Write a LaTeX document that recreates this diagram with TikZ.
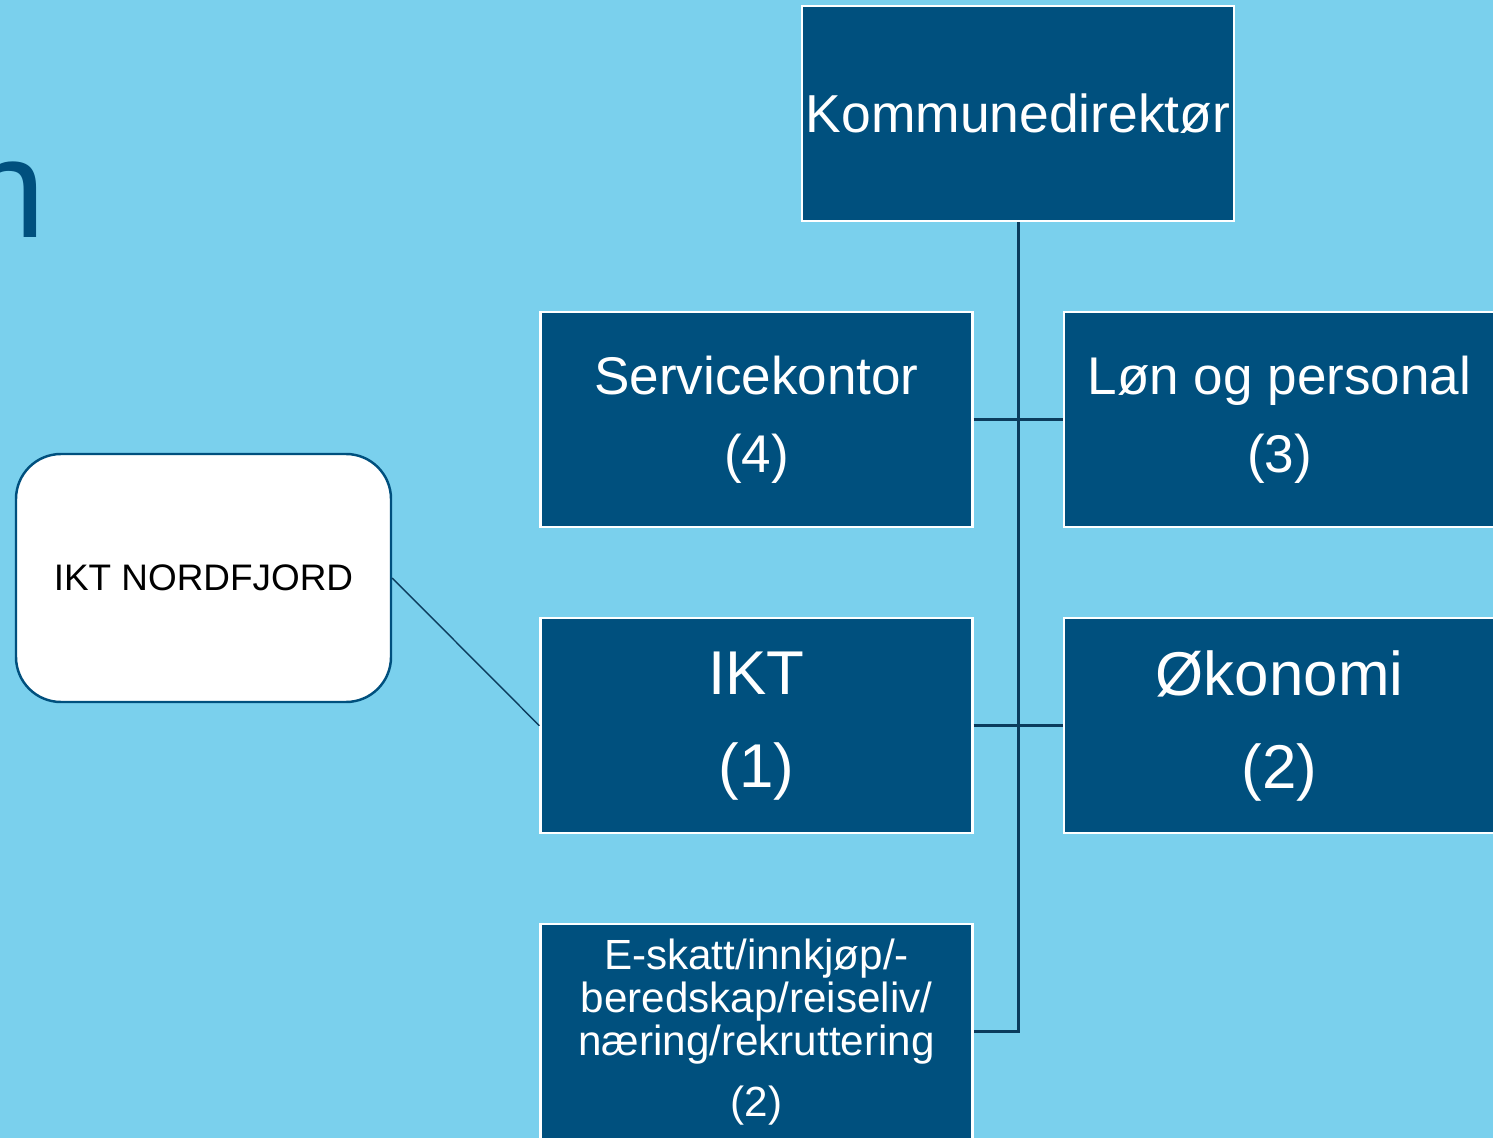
\documentclass[tikz,border=0pt]{standalone}
\usepackage{fontspec}
\setmainfont{Liberation Sans}
\usetikzlibrary{positioning}
\definecolor{bakgrunn}{HTML}{7AD0ED}
\definecolor{boksblaa}{HTML}{00507E}
\definecolor{linjeblaa}{HTML}{0B3C5D}
\begin{document}
\begin{tikzpicture}[node distance=0.89cm, >=stealth]
            \tikzstyle{boks}=[rectangle, draw=white, line width=0.6pt, fill=boksblaa, text=white, minimum width=4.32cm, minimum height=2.15cm, align=center, inner sep=0pt]
            \tikzstyle{linje}=[draw=linjeblaa, line width=0.85pt]

            % Bakgrunn
            \fill[bakgrunn] (0,0) rectangle (14.93,-11.38);
            \useasboundingbox (0,0) rectangle (14.93,-11.38);
            \node[anchor=base west, inner sep=0pt, text=boksblaa, font=\fontsize{40}{40}\selectfont] (tittel) at (-0.33,-2.38) {n};

            % Bokser
            \node[boks, font=\fontsize{15.2}{15.2}\selectfont] (kd) at (10.18,-1.135) {Kommunedirektør};
            \node[boks, below left=0.89cm and 0.445cm of kd.south, anchor=north east, font=\fontsize{15.1}{22.2}\selectfont] (sk) {Servicekontor\\(4)};
            \node[boks, right=of sk, font=\fontsize{15.1}{22.2}\selectfont] (lon) {Løn og personal\\(3)};
            \node[boks, below=of sk, font=\fontsize{17.6}{26.5}\selectfont] (ikt) {IKT\\(1)};
            \node[boks, below=of lon, font=\fontsize{17.6}{26.5}\selectfont] (oko) {Økonomi\\(2)};
            \node[boks, below=of ikt, font=\fontsize{12}{12.3}\selectfont] (esk) {E-skatt/innkjøp/-\\beredskap/reiseliv/\\næring/rekruttering\\[5pt](2)};
            \node[rectangle, rounded corners=0.45cm, draw=boksblaa, line width=0.7pt, fill=white, minimum width=3.75cm, minimum height=2.48cm, font=\fontsize{10.5}{10.5}\selectfont] (nf) at (2.035,-5.78) {IKT NORDFJORD};

            % Linjer
            \coordinate (hjorne) at (kd.south |- esk.east);
            \draw[linje] (kd.south) -- (hjorne) -- (esk.east);
            \draw[linje] (sk.east) -- (lon.west);
            \draw[linje] (ikt.east) -- (oko.west);
            \draw[draw=linjeblaa, line width=0.4pt] (nf.east) -- (ikt.west);
        \end{tikzpicture}
\end{document}
